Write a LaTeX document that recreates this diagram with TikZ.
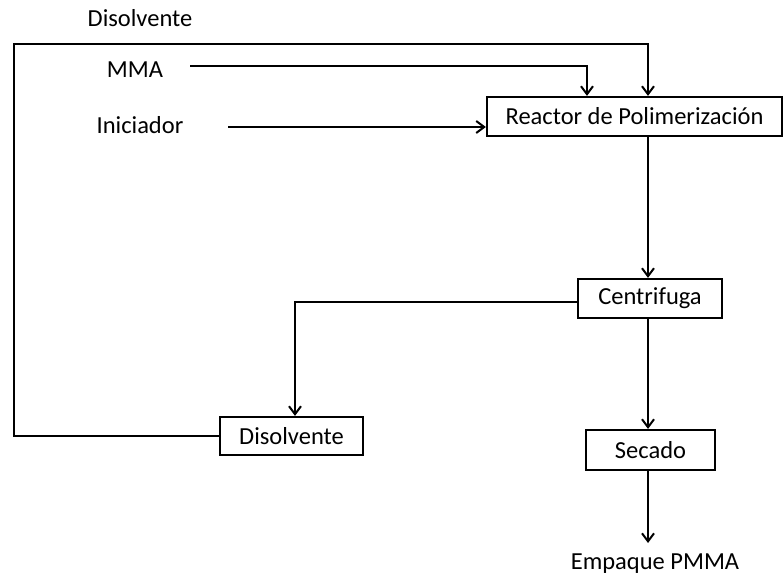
\documentclass[tikz,border=0pt]{standalone}
\usepackage{fontspec}
\setmainfont{Carlito}
\usetikzlibrary{arrows.meta}
\begin{document}
\begin{tikzpicture}[x=1pt,y=-1pt,
  every node/.style={font=\fontsize{24.5}{28}\selectfont},
  box/.style={draw=black,line width=2.2pt,fill=white,inner sep=0pt},
  lbl/.style={inner sep=0pt},
  conn/.style={draw=black,line width=2.2pt},
  arr/.style={conn,-{Straight Barb[length=8pt,width=12pt,line width=2pt]}}]
\useasboundingbox (0,0) rectangle (784,578);
% boxes
\node[box,minimum width=295pt,minimum height=39pt] (reactor) at (634.5,116.5) {Reactor de Polimerización};
\node[box,minimum width=144pt,minimum height=39pt] (centri) at (650,298.5) {Centrifuga};
\node[box,minimum width=143pt,minimum height=38pt] (disbox) at (291.5,436) {Disolvente};
\node[box,minimum width=129pt,minimum height=40pt] (secado) at (650.5,450) {Secado};
% labels
\node[lbl] (dislbl) at (140,18) {Disolvente};
\node[lbl] (mma) at (135,70) {MMA};
\node[lbl] (inic) at (140,125) {Iniciador};
\node[lbl] (empaque) at (655,564) {Empaque PMMA};
% helper coordinates
\coordinate (cx) at (648,0);
\coordinate (mcol) at (587,0);
\coordinate (dcol) at (295,0);
\coordinate (l1) at (14,44);
\coordinate (m0) at (190,66);
\coordinate (i0) at (228,127);
\coordinate (c0) at (0,302);
\coordinate (e0) at (648,543);
% connectors
\draw[arr] (disbox.west) -| (l1) -| (reactor.north -| cx);
\draw[arr] (m0) -| (reactor.north -| mcol);
\draw[arr] (i0) -- (reactor.west |- i0);
\draw[arr] (reactor.south -| cx) -- (centri.north -| cx);
\draw[arr] (centri.west |- c0) -| (disbox.north -| dcol);
\draw[arr] (centri.south -| cx) -- (secado.north -| cx);
\draw[arr] (secado.south -| cx) -- (e0);
\end{tikzpicture}
\end{document}
